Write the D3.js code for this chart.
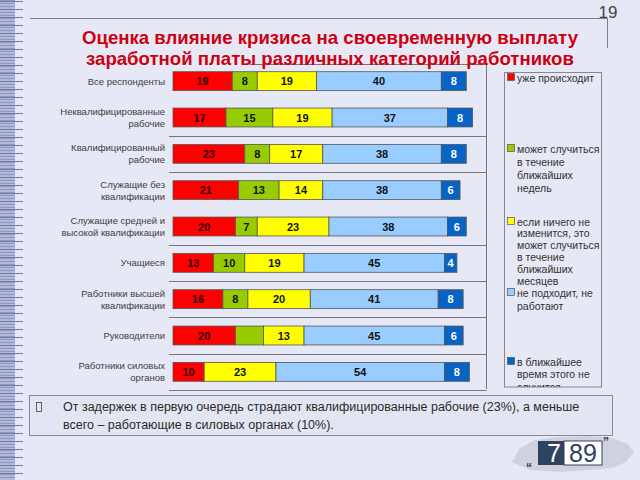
<!DOCTYPE html>
<html><head><meta charset="utf-8">
<script src="https://cdn.jsdelivr.net/npm/d3@7"></script>
<style>body{margin:0;background:#e6e8f5;} svg{display:block}</style>
</head><body><svg id="c" width="640" height="480"></svg>
<script>
// ---- data ----
const categories = [
  ["Все респонденты"],
  ["Неквалифицированные", "рабочие"],
  ["Квалифицированный", "рабочие"],
  ["Служащие без", "квалификации"],
  ["Служащие средней и", "высокой квалификации"],
  ["Учащиеся"],
  ["Работники высшей", "квалификации"],
  ["Руководители"],
  ["Работники силовых", "органов"]
];
const seriesNames = [
  ["уже происходит"],
  ["может случиться", "в течение", "ближайших", "недель"],
  ["если ничего не", "изменится, это", "может случиться", "в течение", "ближайших", "месяцев"],
  ["не подходит, не", "работают"],
  ["в ближайшее", "время этого не", "случится"]
];
const alreadyHappening = [19, 17, 23, 21, 20, 13, 16, 20, 10];
const withinWeeks      = [8, 15, 8, 13, 7, 10, 8, 9, 0];
const withinMonths     = [19, 19, 17, 14, 23, 19, 20, 13, 23];
const notApplicable    = [40, 37, 38, 38, 38, 45, 41, 45, 54];
const wontHappen       = [8, 8, 8, 6, 6, 4, 8, 6, 8];
const unlabeledWeeks   = [7]; // segment shown without a value label
const seriesValues = [alreadyHappening, withinWeeks, withinMonths, notApplicable, wontHappen];
const colors = ["#ff0000", "#99cc00", "#ffff00", "#99ccff", "#0763c4"];
const labelColors = ["#2a0000", "#111", "#111", "#111", "#ffffff"];
const titleLines = ["Оценка влияние кризиса на своевременную выплату", "заработной платы различных категорий работников"];
const note = ["От задержек в первую очередь страдают квалифицированные рабочие (23%), а меньше",
              "всего – работающие в силовых органах (10%)."];

const svg = d3.select("#c");
const font = "Arial, 'Liberation Sans', sans-serif";

// background
svg.append("rect").attr("width", 640).attr("height", 480).attr("fill", "#e6e8f5");

// left decorative stripes
const stripeG = svg.append("g");
stripeG.append("rect").attr("x", 0).attr("y", 0).attr("width", 15).attr("height", 480).attr("fill", "#b3bad9");
d3.range(0, 480, 3).forEach(yy => {
  stripeG.append("line").attr("x1", 0).attr("x2", 15).attr("y1", yy + 0.5).attr("y2", yy + 0.5)
    .attr("stroke", "#8e97c2").attr("stroke-width", 1);
});
d3.range(1, 480, 8).forEach(yy => {
  stripeG.append("line").attr("x1", 0).attr("x2", 23).attr("y1", yy + 0.5).attr("y2", yy + 0.5)
    .attr("stroke", "#6f79aa").attr("stroke-width", 1);
});

// top rule + page number
svg.append("line").attr("x1", 30).attr("x2", 607).attr("y1", 18.5).attr("y2", 18.5).attr("stroke", "#7d8090");
svg.append("line").attr("x1", 607.5).attr("x2", 607.5).attr("y1", 18).attr("y2", 48).attr("stroke", "#7d8090");
svg.append("text").attr("x", 608).attr("y", 18).attr("text-anchor", "middle")
  .attr("font-family", font).attr("font-size", 17).attr("fill", "#444").text("19");

// plot frame
const frame = svg.append("g").attr("stroke", "#777").attr("fill", "none");
frame.append("line").attr("x1", 250).attr("x2", 486.5).attr("y1", 64.5).attr("y2", 64.5);
frame.append("line").attr("x1", 486.5).attr("x2", 486.5).attr("y1", 64.5).attr("y2", 389);

// scales
const x = d3.scaleLinear().domain([0, 100]).range([173, 485]);
const y = d3.scaleBand().domain(d3.range(categories.length)).range([63, 390]).paddingInner(0.48).paddingOuter(0.24);
const step = y.step();

// separators between category rows
const sepIdx = [2, 3, 5, 6, 7, 8, 9];
svg.append("g").selectAll("line").data(sepIdx).join("line")
  .attr("x1", 169).attr("x2", 486.5)
  .attr("y1", k => Math.round(63 + k * step) + 0.5)
  .attr("y2", k => Math.round(63 + k * step) + 0.5)
  .attr("stroke", "#777");

// stacked data
const rows = categories.map((c, i) => {
  let acc = 0;
  return seriesValues.map((s, j) => {
    const v = s[i];
    const seg = {row: i, series: j, v, x0: acc, x1: acc + v};
    acc += v;
    return seg;
  });
}).flat();

const bars = svg.append("g");
bars.selectAll("rect").data(rows.filter(d => d.v > 0)).join("rect")
  .attr("x", d => x(d.x0)).attr("width", d => x(d.x1) - x(d.x0))
  .attr("y", d => y(d.row)).attr("height", y.bandwidth())
  .attr("fill", d => colors[d.series]).attr("stroke", "#555").attr("stroke-width", 0.8);

bars.selectAll("text").data(rows.filter(d => d.v > 0 && !(d.series === 1 && unlabeledWeeks.includes(d.row)))).join("text")
  .attr("x", d => (x(d.x0) + x(d.x1)) / 2).attr("y", d => y(d.row) + y.bandwidth() / 2 + 4)
  .attr("text-anchor", "middle").attr("font-family", font).attr("font-size", 11).attr("font-weight", "bold")
  .attr("fill", d => labelColors[d.series]).text(d => d.v);

// category labels
const catG = svg.append("g");
categories.forEach((lines, i) => {
  const cy = y(i) + y.bandwidth() / 2;
  const lh = 12;
  const t = catG.append("text").attr("text-anchor", "end").attr("font-family", font).attr("font-size", 9.5).attr("fill", "#404040");
  lines.forEach((l, k) => {
    t.append("tspan").attr("x", 165).attr("y", cy + 3.5 + (k - (lines.length - 1) / 2) * lh).text(l);
  });
});

// legend
const lg = svg.append("g");
lg.append("clipPath").attr("id", "lgclip").append("rect").attr("x", 504).attr("y", 72).attr("width", 98).attr("height", 315);
lg.append("rect").attr("x", 504.5).attr("y", 72.5).attr("width", 97).attr("height", 314.5).attr("fill", "none").attr("stroke", "#888");
const legendY = [78, 149, 222, 293, 362];
const legendLH = [13, 13.2, 11.8, 13, 12.8];
const lgi = lg.append("g").attr("clip-path", "url(#lgclip)");
seriesNames.forEach((lines, j) => {
  lgi.append("rect").attr("x", 507.5).attr("y", legendY[j] - 4.5).attr("width", 7).attr("height", 7)
    .attr("fill", colors[j]).attr("stroke", "#555").attr("stroke-width", 0.7);
  const t = lgi.append("text").attr("font-family", font).attr("font-size", 10.5).attr("fill", "#333");
  lines.forEach((l, k) => {
    t.append("tspan").attr("x", 517).attr("y", legendY[j] + 3.5 + k * legendLH[j]).text(l);
  });
});

// title
const tt = svg.append("text").attr("text-anchor", "middle").attr("font-family", font)
  .attr("font-size", 18.6).attr("font-weight", "bold").attr("fill", "#cc0011");
titleLines.forEach((l, k) => tt.append("tspan").attr("x", 330).attr("y", 43.5 + k * 21).text(l));

// note box
svg.append("rect").attr("x", 29.5).attr("y", 395.5).attr("width", 583).attr("height", 40)
  .attr("fill", "#e3e5f2").attr("stroke", "#8a8a95");
svg.append("rect").attr("x", 36.5).attr("y", 402.5).attr("width", 5).attr("height", 9)
  .attr("fill", "none").attr("stroke", "#444").attr("stroke-width", 0.8);
const nt = svg.append("text").attr("font-family", font).attr("font-size", 12.5).attr("fill", "#2a2a2a");
note.forEach((l, k) => nt.append("tspan").attr("x", 63).attr("y", 411 + k * 18).text(l));

// logo
const logo = svg.append("g");
logo.append("path").attr("d", "M512,462 L520,448 L535,440 L560,437 L590,436 L612,438 L628,444 L634,452 L626,462 L612,468 L590,470 L560,472 L530,470 Z")
  .attr("fill", "#c9ccd6").attr("opacity", 0.8);
logo.append("rect").attr("x", 538).attr("y", 441).attr("width", 26).attr("height", 24).attr("fill", "#2f4260");
logo.append("rect").attr("x", 564).attr("y", 441).attr("width", 38).attr("height", 24).attr("fill", "#ffffff").attr("stroke", "#2f4260").attr("stroke-width", 1);
logo.append("text").attr("x", 554).attr("y", 462).attr("text-anchor", "middle").attr("font-family", font)
  .attr("font-size", 25).attr("fill", "#ffffff").text("7");
logo.append("text").attr("x", 583).attr("y", 462).attr("text-anchor", "middle").attr("font-family", font)
  .attr("font-size", 25).attr("fill", "#2f4260").text("89");
logo.append("text").attr("x", 603).attr("y", 446).attr("font-family", font).attr("font-size", 12).attr("font-weight", "bold").attr("fill", "#333").text("\u201D");
logo.append("text").attr("x", 526).attr("y", 472).attr("font-family", font).attr("font-size", 12).attr("font-weight", "bold").attr("fill", "#333").text("\u201C");
</script></body></html>
